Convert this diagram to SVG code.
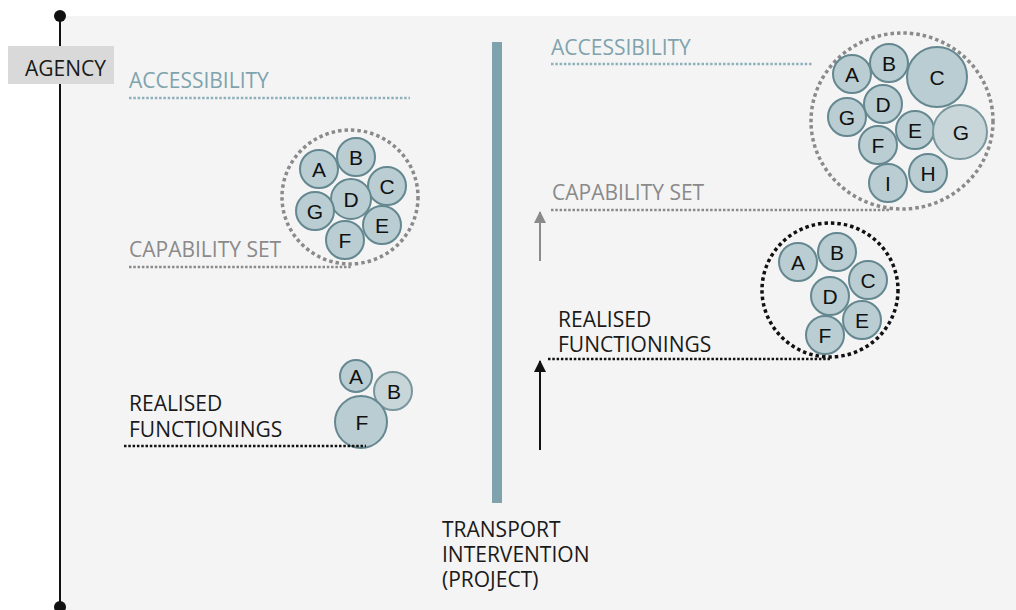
<svg xmlns="http://www.w3.org/2000/svg" width="1016" height="610" viewBox="0 0 1016 610">
<defs>
<style>
.lbl{font-family:"Open Sans","Liberation Sans",sans-serif;font-size:21px}
.blk{fill:#1a1a1a}
.acc{fill:#7fa3ad}
.cap{fill:#8a8a8a}
.c{fill:#b9cdd2;stroke:#648790;stroke-width:2}
.cl{fill:#c8d6da;stroke:#7a979e;stroke-width:2}
.ct{font-family:"Liberation Sans",Arial,sans-serif;font-size:21px;fill:#111;text-anchor:middle}
.dacc{stroke:#8eb0ba;stroke-width:2.5;stroke-dasharray:2.5 1.8;fill:none}
.dcap{stroke:#8a8a8a;stroke-width:2.5;stroke-dasharray:2.5 1.8;fill:none}
.dblk{stroke:#111;stroke-width:2.5;stroke-dasharray:2.5 1.8;fill:none}
.ring{fill:none;stroke:#8a8a8a;stroke-width:3.5;stroke-dasharray:3.5 3}
.ringb{fill:none;stroke:#111;stroke-width:3.5;stroke-dasharray:3.5 3}
</style>
<marker id="ag" markerWidth="12" markerHeight="12" refX="11" refY="6" orient="auto" markerUnits="userSpaceOnUse" viewBox="0 0 12 12">
<path d="M0,0 L12,6 L0,12 Z" fill="#8a8a8a"/>
</marker>
<marker id="ab" markerWidth="12" markerHeight="12" refX="11" refY="6" orient="auto" markerUnits="userSpaceOnUse" viewBox="0 0 12 12">
<path d="M0,0 L12,6 L0,12 Z" fill="#111"/>
</marker>
</defs>
<rect x="0" y="0" width="1016" height="610" fill="#ffffff"/>
<rect x="60" y="16" width="956" height="594" fill="#f4f4f4"/>

<g id="agency-axis">
<line x1="60" y1="16" x2="60" y2="606" stroke="#111" stroke-width="2"/>
<circle cx="60" cy="16" r="6" fill="#111"/>
<circle cx="60" cy="607" r="6" fill="#111"/>
<rect x="8" y="46" width="106" height="38" fill="#d9d9d9"/>
<text class="lbl blk" x="25" y="76">AGENCY</text>
</g>

<g id="intervention">
<rect x="492" y="42" width="10" height="461" fill="#7fa3ad"/>
<text class="lbl blk" x="442" y="537">TRANSPORT</text>
<text class="lbl blk" x="442" y="562">INTERVENTION</text>
<text class="lbl blk" x="442" y="587">(PROJECT)</text>
</g>

<g id="left-accessibility">
<text class="lbl acc" x="129" y="88">ACCESSIBILITY</text>
</g>
<g id="left-capability">
<text class="lbl cap" x="129" y="257">CAPABILITY SET</text>
<ellipse class="ring" cx="350" cy="197" rx="68" ry="67"/>
<circle class="c" cx="319" cy="169" r="19"/><text class="ct" x="319" y="177">A</text>
<circle class="c" cx="356" cy="157" r="19"/><text class="ct" x="356" y="165">B</text>
<circle class="c" cx="387" cy="186" r="19"/><text class="ct" x="387" y="194">C</text>
<circle class="c" cx="351" cy="199" r="20"/><text class="ct" x="351" y="207">D</text>
<circle class="c" cx="315" cy="211" r="19"/><text class="ct" x="315" y="219">G</text>
<circle class="c" cx="382" cy="225" r="19"/><text class="ct" x="382" y="233">E</text>
<circle class="c" cx="345" cy="240" r="19"/><text class="ct" x="345" y="248">F</text>
</g>
<g id="left-functionings">
<text class="lbl blk" x="129" y="411">REALISED</text>
<text class="lbl blk" x="129" y="437">FUNCTIONINGS</text>
<circle class="c" cx="356" cy="376" r="16"/><text class="ct" x="356" y="384">A</text>
<circle class="cl" cx="393" cy="391" r="19"/><text class="ct" x="394" y="399">B</text>
<circle class="c" cx="361" cy="422" r="26"/><text class="ct" x="362" y="430">F</text>
</g>

<g id="right-accessibility">
<text class="lbl acc" x="551" y="55">ACCESSIBILITY</text>
</g>
<g id="right-capability">
<text class="lbl cap" x="552" y="200">CAPABILITY SET</text>
<ellipse class="ring" cx="902" cy="121" rx="91" ry="88"/>
<circle class="c" cx="852" cy="74" r="19"/><text class="ct" x="852" y="82">A</text>
<circle class="c" cx="889" cy="63" r="19"/><text class="ct" x="889" y="71">B</text>
<circle class="c" cx="937" cy="77" r="30"/><text class="ct" x="937" y="85">C</text>
<circle class="c" cx="883" cy="104" r="19"/><text class="ct" x="883" y="112">D</text>
<circle class="c" cx="847" cy="117" r="19"/><text class="ct" x="847" y="125">G</text>
<circle class="c" cx="915" cy="130" r="19"/><text class="ct" x="915" y="138">E</text>
<circle class="cl" cx="960" cy="132" r="27"/><text class="ct" x="961" y="140">G</text>
<circle class="c" cx="878" cy="145" r="19"/><text class="ct" x="878" y="153">F</text>
<circle class="c" cx="928" cy="173" r="19"/><text class="ct" x="928" y="181">H</text>
<circle class="c" cx="888" cy="183" r="19"/><text class="ct" x="888" y="191">I</text>
</g>
<g id="right-functionings">
<text class="lbl blk" x="558" y="327">REALISED</text>
<text class="lbl blk" x="558" y="352">FUNCTIONINGS</text>
<ellipse class="ringb" cx="830" cy="290" rx="68" ry="67"/>
<circle class="c" cx="798" cy="262" r="19"/><text class="ct" x="798" y="270">A</text>
<circle class="c" cx="837" cy="252" r="19"/><text class="ct" x="837" y="260">B</text>
<circle class="c" cx="868" cy="280" r="19"/><text class="ct" x="868" y="288">C</text>
<circle class="c" cx="830" cy="296" r="19"/><text class="ct" x="830" y="304">D</text>
<circle class="c" cx="862" cy="320" r="19"/><text class="ct" x="862" y="328">E</text>
<circle class="c" cx="825" cy="335" r="19"/><text class="ct" x="825" y="343">F</text>
</g>

<g id="connectors">
<line class="dacc" x1="129" y1="98" x2="410" y2="98"/>
<line class="dcap" x1="129" y1="267" x2="352" y2="267"/>
<line class="dblk" x1="124" y1="446" x2="366" y2="446"/>
<line class="dacc" x1="551" y1="64" x2="812" y2="64"/>
<line class="dcap" x1="551" y1="210" x2="890" y2="210"/>
<line class="dblk" x1="548" y1="359" x2="830" y2="359"/>
<line x1="540" y1="261" x2="540" y2="212" stroke="#8a8a8a" stroke-width="2" marker-end="url(#ag)"/>
<line x1="540" y1="450" x2="540" y2="361" stroke="#111" stroke-width="2" marker-end="url(#ab)"/>
</g>
</svg>
